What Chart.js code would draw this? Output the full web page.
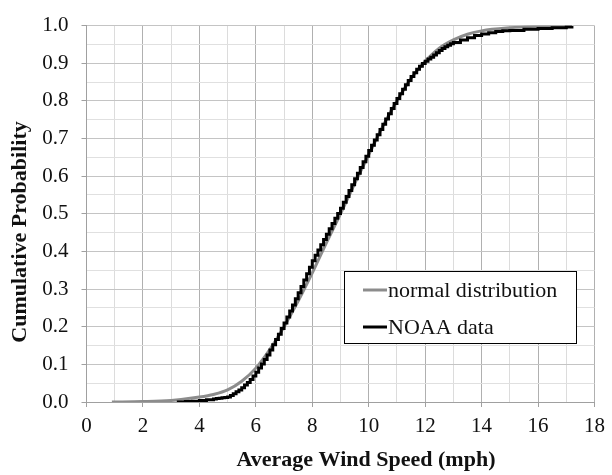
<!DOCTYPE html>
<html>
<head>
<meta charset="utf-8">
<script src="https://cdn.jsdelivr.net/npm/chart.js@4/dist/chart.umd.min.js"></script>
<style>
  html, body { margin: 0; padding: 0; background: #fff; }
  #wrap { width: 612px; height: 475px; }
</style>
</head>
<body>
<div id="wrap"><canvas id="cdfChart" width="612" height="475"></canvas></div>
<script>
// Tick labels
const xTickLabels = [0, 2, 4, 6, 8, 10, 12, 14, 16, 18];
const yTickLabels = ["0.0", "0.1", "0.2", "0.3", "0.4", "0.5", "0.6", "0.7", "0.8", "0.9", "1.0"];

// normal distribution (gray)
const normalSpeed = [0.9, 2, 3, 4, 4.5, 5, 5.5, 6, 6.5, 7, 7.5, 8, 8.5, 9, 9.5, 10, 10.5, 11, 11.5, 12, 12.5, 13, 13.5, 14, 15, 16, 17.2];
const normalProb = [0.000, 0.001, 0.004, 0.013, 0.020, 0.032, 0.055, 0.090, 0.140, 0.200, 0.268, 0.343, 0.423, 0.500, 0.580, 0.657, 0.733, 0.800, 0.860, 0.905, 0.940, 0.962, 0.977, 0.986, 0.994, 0.998, 1.000];

// NOAA data (black, stepped)
const noaaSpeed = [3.2, 3.5, 3.75, 4.0, 4.25, 4.5, 4.6, 4.7, 4.8, 4.9,
  5.0, 5.1, 5.2, 5.3, 5.4, 5.5, 5.6, 5.7, 5.8, 5.9,
  6.0, 6.1, 6.2, 6.3, 6.4, 6.5, 6.6, 6.7, 6.8, 6.9,
  7.0, 7.1, 7.2, 7.3, 7.4, 7.5, 7.6, 7.7, 7.8, 7.9,
  8.0, 8.1, 8.2, 8.3, 8.4, 8.5, 8.6, 8.7, 8.8, 8.9,
  9.0, 9.1, 9.2, 9.3, 9.4, 9.5, 9.6, 9.7, 9.8, 9.9,
  10.0, 10.1, 10.2, 10.3, 10.4, 10.5, 10.6, 10.7, 10.8, 10.9,
  11.0, 11.1, 11.2, 11.3, 11.4, 11.5, 11.6, 11.7, 11.8, 11.9,
  12.0, 12.1, 12.2, 12.3, 12.4, 12.5, 12.6, 12.7, 12.8, 12.9,
  13.0, 13.25, 13.5, 13.75, 14.0, 14.25, 14.5, 14.75, 15.0, 15.5, 16.0, 16.5, 17.0, 17.2];
const noaaProb = [0.000, 0.001, 0.002, 0.004, 0.006, 0.008, 0.009, 0.010, 0.011, 0.012,
  0.013, 0.017, 0.022, 0.027, 0.032, 0.038, 0.045, 0.052, 0.060, 0.069,
  0.079, 0.090, 0.101, 0.113, 0.125, 0.138, 0.152, 0.166, 0.180, 0.195,
  0.210, 0.226, 0.242, 0.258, 0.274, 0.290, 0.307, 0.324, 0.341, 0.358,
  0.375, 0.390, 0.404, 0.418, 0.432, 0.446, 0.460, 0.474, 0.488, 0.501,
  0.515, 0.531, 0.546, 0.562, 0.577, 0.593, 0.608, 0.623, 0.638, 0.653,
  0.668, 0.682, 0.696, 0.710, 0.724, 0.738, 0.752, 0.766, 0.780, 0.793,
  0.806, 0.819, 0.831, 0.843, 0.854, 0.865, 0.875, 0.884, 0.892, 0.899,
  0.905, 0.911, 0.916, 0.922, 0.928, 0.934, 0.939, 0.944, 0.948, 0.952,
  0.955, 0.962, 0.968, 0.974, 0.978, 0.981, 0.984, 0.986, 0.987, 0.990, 0.992, 0.994, 0.996, 0.999];

const xTitle = "Average Wind Speed (mph)";
const yTitle = "Cumulative Probability";

const FONT = '"Liberation Serif", "Times New Roman", serif';

function toPoints(xs, ys) {
  return xs.map((x, i) => ({ x: x, y: ys[i] }));
}

// legend box inside the plot + axis titles (placed off-centre like the original)
const boxedLegend = {
  id: "boxedLegend",
  afterDraw(chart) {
    const ctx = chart.ctx;
    ctx.save();
    ctx.fillStyle = "#fff";
    ctx.fillRect(344, 271, 232, 72);
    ctx.strokeStyle = "#000";
    ctx.lineWidth = 1;
    ctx.strokeRect(344.5, 271.5, 232, 72);
    ctx.font = "22px " + FONT;
    ctx.textBaseline = "middle";
    chart.data.datasets.forEach((ds, i) => {
      const y = 290 + i * 37;
      ctx.strokeStyle = ds.borderColor;
      ctx.lineWidth = 3;
      ctx.beginPath();
      ctx.moveTo(363, y);
      ctx.lineTo(387, y);
      ctx.stroke();
      ctx.fillStyle = "#111";
      ctx.fillText(ds.label, 388, y + 1);
    });

    // axis titles
    ctx.fillStyle = "#111";
    ctx.font = "bold 22px " + FONT;
    ctx.textAlign = "center";
    ctx.textBaseline = "alphabetic";
    ctx.fillText(xTitle, 366, 466);
    ctx.translate(20, 232);
    ctx.rotate(-Math.PI / 2);
    ctx.textBaseline = "middle";
    ctx.fillText(yTitle, 0, 0);
    ctx.restore();
  }
};

const isMajorX = (v) => xTickLabels.includes(Math.round(v));
const isMajorY = (v) => yTickLabels.includes(v.toFixed(1)) && Math.abs(v * 10 - Math.round(v * 10)) < 1e-6;

new Chart(document.getElementById("cdfChart"), {
  type: "line",
  data: {
    datasets: [
      {
        label: "normal distribution",
        data: toPoints(normalSpeed, normalProb),
        borderColor: "#8c8c8c",
        borderWidth: 3,
        pointRadius: 0,
        tension: 0.4,
        cubicInterpolationMode: "monotone",
        order: 2
      },
      {
        label: "NOAA data",
        data: toPoints(noaaSpeed, noaaProb),
        borderColor: "#000",
        borderWidth: 3,
        pointRadius: 0,
        stepped: true,
        order: 1
      }
    ]
  },
  options: {
    responsive: false,
    animation: false,
    layout: { padding: { left: 0, right: 11, top: 15, bottom: 0 } },
    plugins: {
      legend: { display: false },
      tooltip: { enabled: false }
    },
    scales: {
      x: {
        type: "linear",
        min: 0,
        max: 18,
        afterFit: (s) => { s.height = 73; },
        ticks: {
          stepSize: 1,
          autoSkip: false,
          maxRotation: 0,
          padding: 7,
          color: "#111",
          font: { family: FONT, size: 21 },
          callback: (v) => (isMajorX(v) && v % 2 === 0 ? String(v) : "")
        },
        grid: {
          color: (c) => (c.tick && c.tick.value % 2 === 0 ? "#b0b0b0" : "#dcdcdc"),
          tickColor: (c) => (c.tick && c.tick.value % 2 === 0 ? "#a0a0a0" : "rgba(0,0,0,0)"),
          tickLength: 5
        },
        border: { color: "#a0a0a0" }
      },
      y: {
        min: 0,
        max: 1,
        afterFit: (s) => { s.width = 86.5; },
        ticks: {
          stepSize: 0.05,
          autoSkip: false,
          padding: 13,
          color: "#111",
          font: { family: FONT, size: 21 },
          callback: (v) => (isMajorY(v) ? v.toFixed(1) : "")
        },
        grid: {
          color: (c) => (c.tick && isMajorY(c.tick.value) ? "#c4c4c4" : "#e0e0e0"),
          tickColor: (c) => (c.tick && isMajorY(c.tick.value) ? "#a0a0a0" : "rgba(0,0,0,0)"),
          tickLength: 5
        },
        border: { color: "#a0a0a0" }
      }
    }
  },
  plugins: [boxedLegend]
});
</script>
</body>
</html>
